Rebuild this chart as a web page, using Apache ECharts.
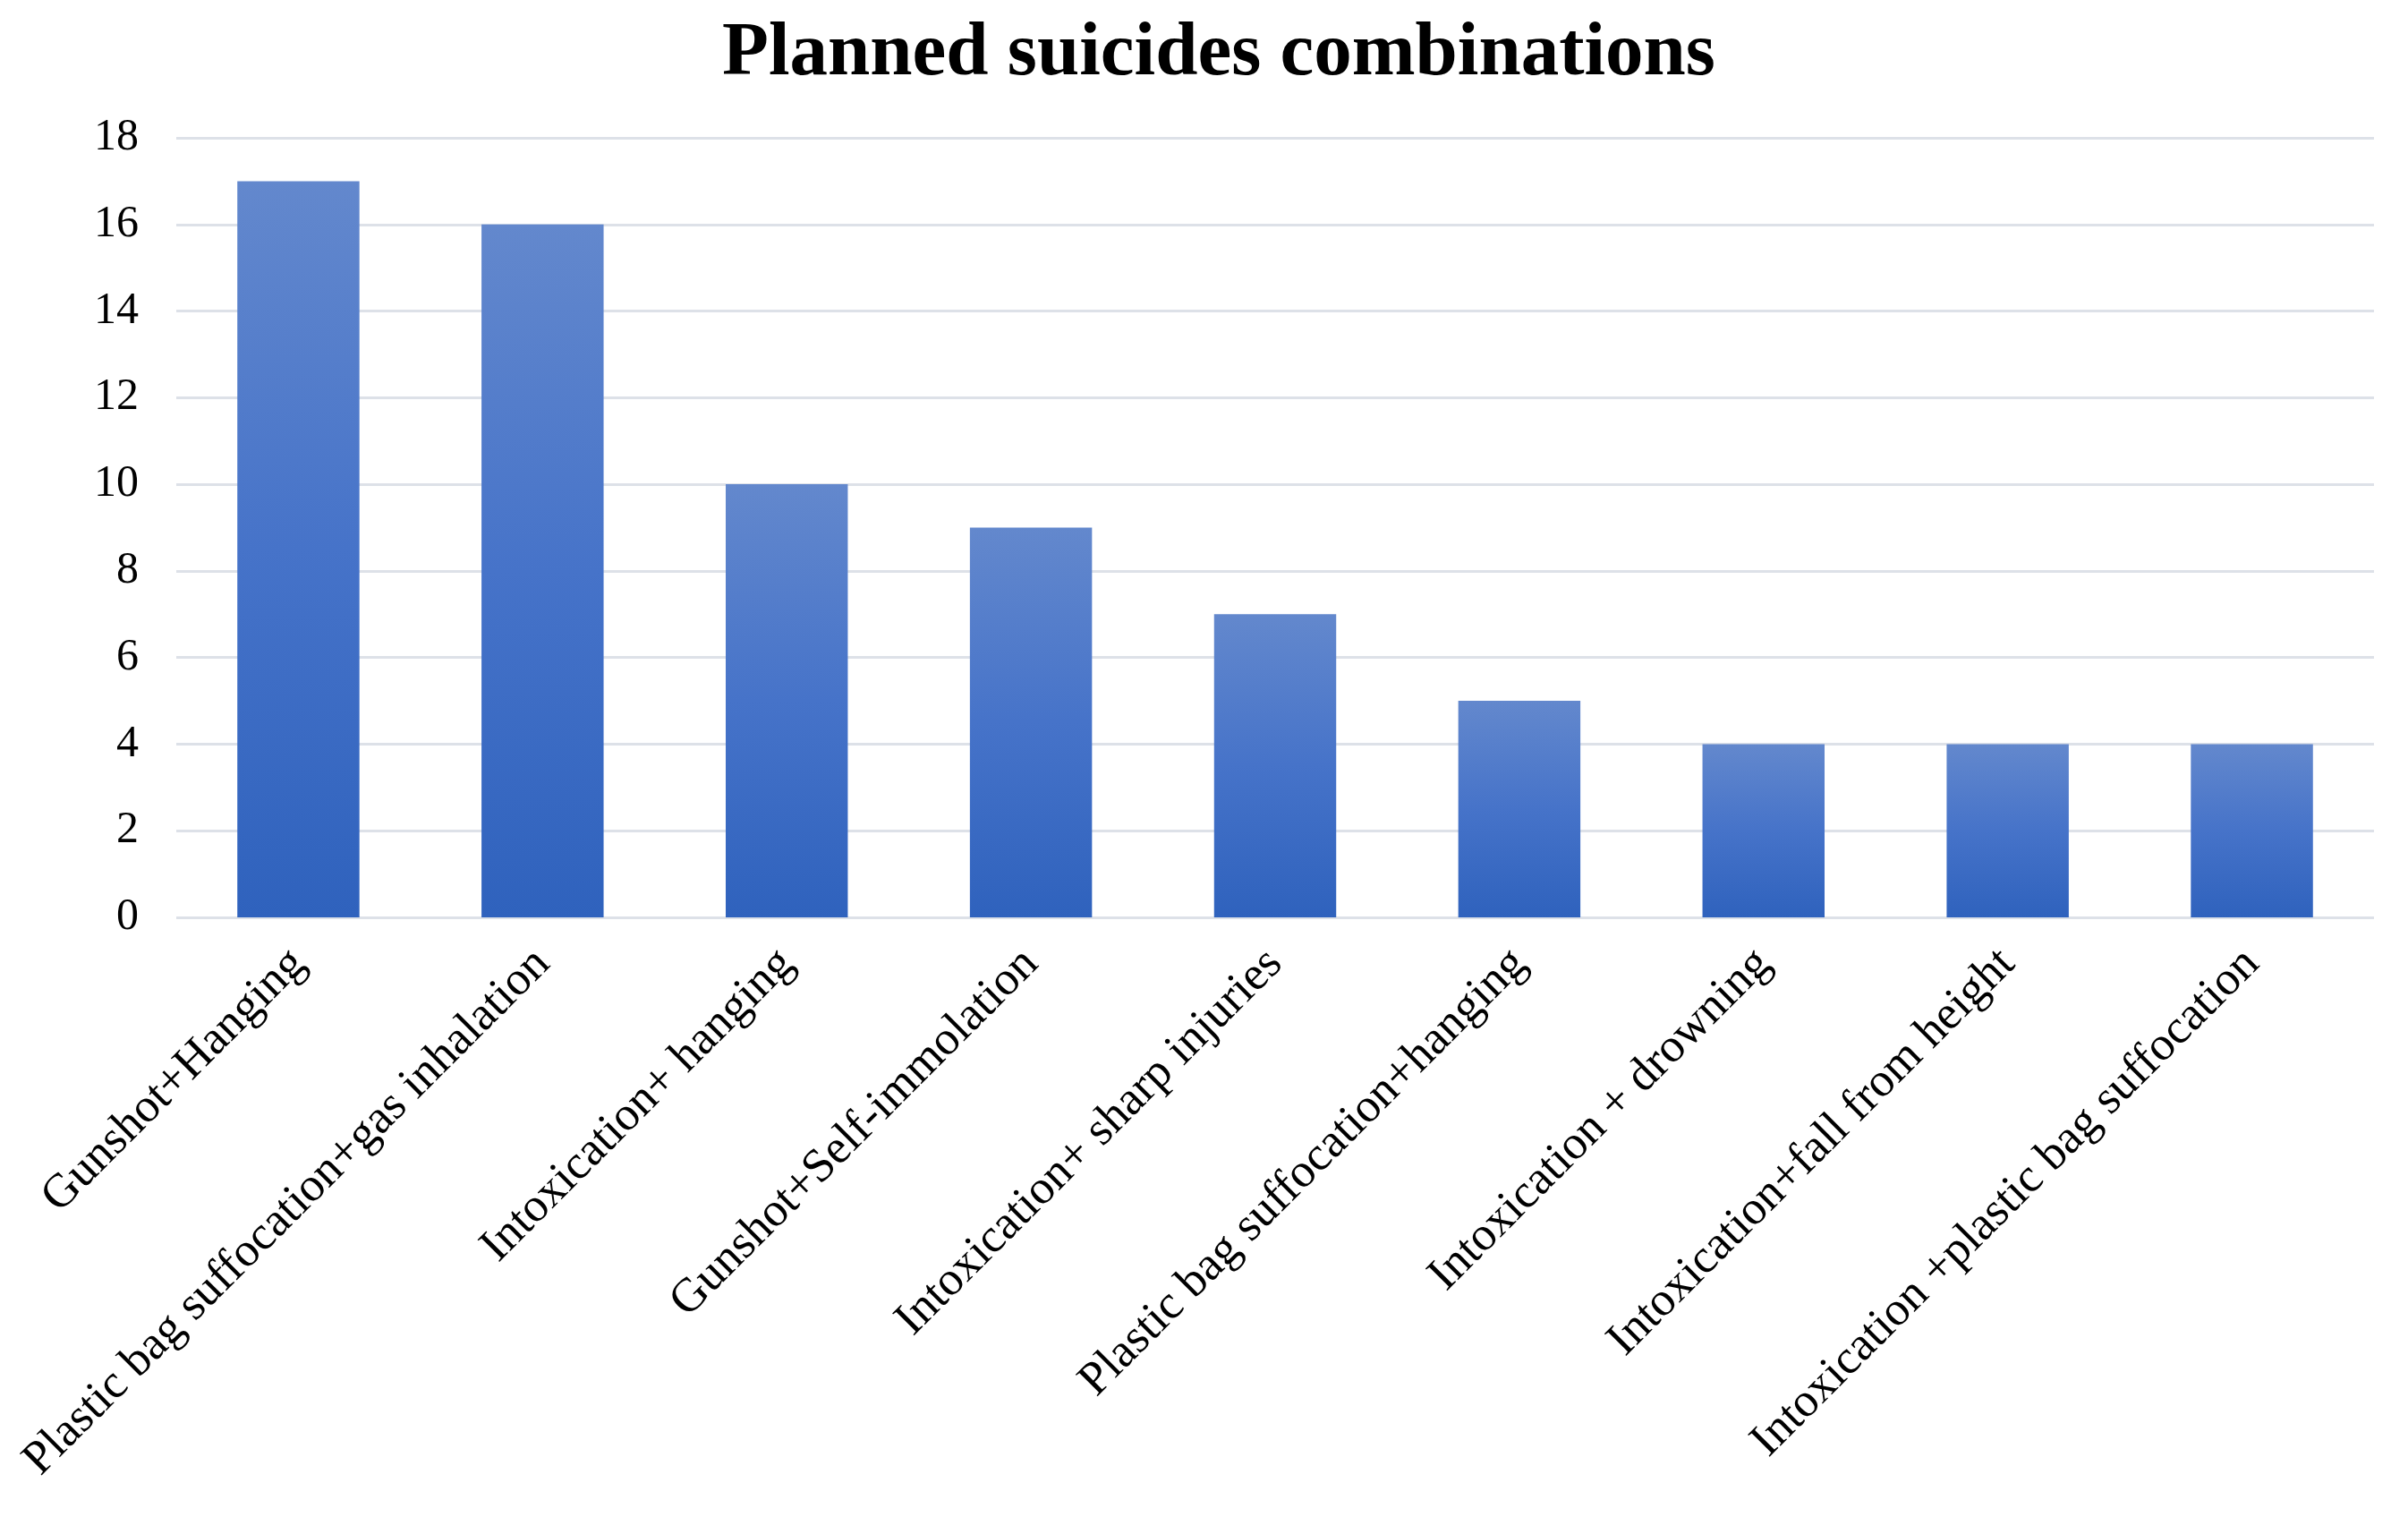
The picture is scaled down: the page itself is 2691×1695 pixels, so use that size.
<!DOCTYPE html>
<html>
<head>
    <title>Planned suicides combinations</title>
    <meta charset="utf-8">
    <script src="https://cdn.jsdelivr.net/npm/echarts@6/dist/echarts.min.js"></script>
</head>
<body style="margin:0;background:#fff;">
<div id="main" style="width: 2691px; height: 1695px;"></div>
<script>
    // categories and counts
    var categories = [
        'Gunshot+Hanging',
        'Plastic bag suffocation+gas inhalation',
        'Intoxication+ hanging',
        'Gunshot+Self-immolation',
        'Intoxication+ sharp injuries',
        'Plastic bag suffocation+hanging',
        'Intoxication + drowning',
        'Intoxication+fall from height',
        'Intoxication +plastic bag suffocation'
    ];
    var counts = [17, 16, 10, 9, 7, 5, 4, 4, 4];

    var yMin = 0, yMax = 18, yStep = 2;

    var myChart = echarts.init(document.getElementById('main'));

    var option = {
        backgroundColor: '#ffffff',
        textStyle: { fontFamily: 'Liberation Serif' },
        title: {
            text: 'Planned suicides combinations',
            left: 802,
            top: 14,
            textStyle: {
                fontFamily: 'Liberation Serif',
                fontWeight: 'bold',
                fontSize: 85,
                color: '#000'
            }
        },
        grid: {
            left: 197,
            right: 38,
            top: 154,
            bottom: 670,
            containLabel: false
        },
        xAxis: {
            type: 'category',
            data: categories,
            axisLine: { show: false },
            axisTick: { show: false },
            axisLabel: {
                rotate: 45,
                interval: 0,
                margin: 44,
                fontFamily: 'Liberation Serif',
                fontSize: 53,
                color: '#000'
            }
        },
        yAxis: {
            type: 'value',
            min: yMin,
            max: yMax,
            interval: yStep,
            axisLine: { show: false },
            axisTick: { show: false },
            axisLabel: {
                margin: 42,
                fontFamily: 'Liberation Serif',
                fontSize: 50,
                color: '#000'
            },
            splitLine: {
                lineStyle: { color: '#DDE1E8', width: 3 }
            }
        },
        series: [{
            type: 'bar',
            data: counts,
            barCategoryGap: '50%',
            itemStyle: {
                color: new echarts.graphic.LinearGradient(0, 0, 0, 1, [
                    { offset: 0, color: '#6388CD' },
                    { offset: 0.5, color: '#4673C9' },
                    { offset: 1, color: '#2F62BD' }
                ])
            }
        }]
    };

    myChart.setOption(option);
</script>
</body>
</html>
